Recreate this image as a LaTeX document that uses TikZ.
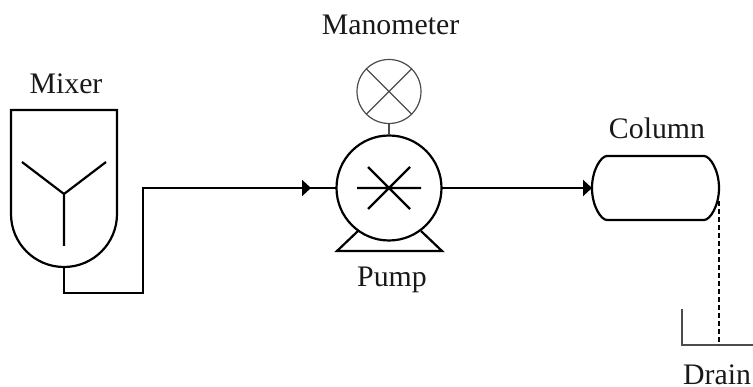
\documentclass[tikz,border=0pt]{standalone}
\usepackage{fontspec}
\setmainfont{Liberation Serif}
\usetikzlibrary{arrows.meta}
\tikzset{
  x=1pt,y=-1pt,
  main/.style={draw=black,line width=2.2pt},
  thinline/.style={draw=black!70,line width=1.2pt},
  flow/.style={main,-{Triangle[length=9pt,width=16pt]}},
  label/.style={font=\fontsize{29.8}{32}\selectfont,text=black!90,inner sep=0pt},
  ring/.style={circle,inner sep=0pt,outer sep=0pt,minimum size=#1},
}
\begin{document}
\begin{tikzpicture}
\useasboundingbox (0,0) rectangle (753,387);
% nodes
\node[ring=105pt,main] (pump) at (389,188) {};
\node[ring=64pt,thinline] (mano) at (389,91.5) {};
\node[inner sep=0pt,outer sep=0pt,minimum width=127pt,minimum height=64pt] (column) at (655.5,188) {};
\coordinate (mixTL) at (11,110);
\coordinate (mixTR) at (117,110);
\coordinate (mixOut) at (64,267);
\coordinate (hub) at (64,194);
% mixer
\draw[main,line join=miter] (mixTL) -- (mixTR) -- (117,214)
  .. controls (117,243.3) and (93.3,267) .. (mixOut)
  .. controls (34.7,267) and (11,243.3) .. (11,214) -- cycle;
\draw[main] (22,162) -- (hub) -- (106,162) (hub) -- (64,246);
% column outline
\draw[main] (606,156) -- (704,156) .. controls (710,156) and (719,170) .. (719,188)
  .. controls (719,206) and (710,220) .. (704,220) -- (607,220)
  .. controls (601,220) and (592,206) .. (592,188)
  .. controls (592,170) and (601,156) .. (607,156) -- cycle;
% pump inside
\draw[main] (357,188) -- (421,188) (368,167) -- (410,209) (410,167) -- (368,209);
\draw[main,line join=miter] (358,231) -- (337,251) -- (442,251) -- (421,231);
% manometer inside
\draw[thinline] (mano.45) -- (mano.225) (mano.135) -- (mano.-45);
\draw[thinline] (mano.south) -- (pump.north);
% connectors
\coordinate (tipA) at (311,188);
\draw[main,line join=miter] (mixOut) -- (64,293) -- (143,293) -- (143,188) -- (pump.west);
\draw[flow] (143,188) -- (tipA);
\draw[flow] (pump.east) -- (column.west);
% drain
\coordinate (drainTop) at (682,309);
\coordinate (drainCorner) at (682,345);
\coordinate (drainEnd) at (753,345);
\coordinate (drainIn) at (719,345);
\coordinate (colOut) at (719,201);
\draw[thinline] (drainTop) -- (drainCorner) -- (drainEnd);
\draw[draw=black,line width=1.8pt,dash pattern=on 5.5pt off 2.5pt] (colOut) -- (drainIn);
% labels
\node[label] (lmixer) at (66,84) {Mixer};
\node[label] (lmano) at (390.5,25) {Manometer};
\node[label] (lpump) at (392,280) {Pump};
\node[label] (lcol) at (657,128) {Column};
\node[label] (ldrain) at (717,374.5) {Drain};
\end{tikzpicture}
\end{document}
